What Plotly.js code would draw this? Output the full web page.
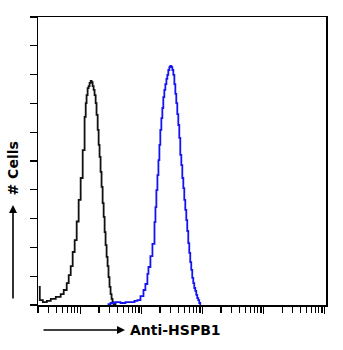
<!DOCTYPE html>
<html>
<head>
<meta charset="utf-8">
<script src="https://cdn.plot.ly/plotly-3.0.1.min.js"></script>
<style>html,body{margin:0;padding:0;background:#fff;}#chart{width:343px;height:350px;}</style>
</head>
<body>
<div id="chart"></div>
<script>
// Control (isotype) histogram: fluorescence intensity vs. cell count
const controlX = [2.06,2.14,2.40,2.79,3.24,3.91,4.71,5.28,5.91,6.37,6.87,7.40,7.98,8.61,9.27,10.0,10.8,11.6,12.1,12.5,13.0,13.5,14.0,14.6,15.1,15.7,16.3,16.9,17.6,18.2,19.0,19.7,20.4,21.2,22.0,22.9,23.8,24.7,25.6,26.6,27.6,28.6,29.7,30.9,32.1,33.3,34.6,37.2];
const controlY = [0.63,0.17,0.10,0.14,0.21,0.28,0.38,0.52,0.76,1.04,1.35,1.84,2.25,2.90,3.65,4.41,5.38,6.53,7.01,7.29,7.53,7.60,7.71,7.78,7.74,7.60,7.47,7.29,7.01,6.60,6.08,5.56,5.14,4.62,4.10,3.54,3.06,2.53,2.08,1.67,1.35,0.97,0.63,0.38,0.21,0.10,0.03,0.0];

// Anti-HSPB1 stained histogram
const hspbX = [27.6,30.9,37.2,45.0,54.3,65.5,76.2,85.3,95.5,107,115,124,129,139,150,162,168,174,181,188,195,202,210,218,226,235,244,254,263,273,284,295,306,318,330,343,356,369,383,398,413,429,446,463,481,499,518,538,558,580,602,625,649,674,700,727,755,784,814,845,877,911];
const hspbY = [0.03,0.07,0.10,0.07,0.10,0.10,0.14,0.17,0.31,0.52,0.73,1.08,1.32,1.70,2.12,2.88,3.40,3.99,4.51,5.03,5.56,6.08,6.49,6.84,7.22,7.47,7.67,7.85,7.99,8.16,8.26,8.30,8.26,8.16,7.99,7.67,7.33,7.01,6.63,6.25,5.80,5.21,4.86,4.41,4.06,3.65,3.30,2.95,2.57,2.15,1.81,1.49,1.22,0.94,0.76,0.59,0.49,0.35,0.24,0.17,0.07,0.0];

// Axis tick positions (log decades and their sub-divisions)
const decadeTicks = [10, 100, 1000, 10000, 100000];
const minorTicks = [2,3,4,5,6,7,8,9,20,30,40,50,60,70,80,90,200,300,400,500,600,700,800,900,2000,3000,4000,5000,6000,7000,8000,9000,20000,30000,40000,50000,60000,70000,80000,90000];
const countTicks = [0,1,2,3,4,5,6,7,8,9,10];

const xTitle = "Anti-HSPB1";
const yTitle = "# Cells";

const traces = [
  {x: controlX, y: controlY, type: 'scatter', mode: 'lines', line: {color: '#111111', width: 1.8, shape: 'hv'}, hoverinfo: 'skip'},
  {x: hspbX, y: hspbY, type: 'scatter', mode: 'lines', line: {color: 'rgb(20,20,240)', width: 1.8, shape: 'hv'}, hoverinfo: 'skip'}
];

const bold = {family: 'DejaVu Sans, Verdana, sans-serif', size: 14, color: '#000', weight: 'bold'};

const layout = {
  width: 343, height: 350,
  margin: {l: 38, r: 17, t: 17, b: 45, pad: 0},
  paper_bgcolor: '#fff', plot_bgcolor: '#fff',
  showlegend: false,
  xaxis: {
    type: 'log', range: [Math.log10(2), 5.02], autorange: false,
    showgrid: false, zeroline: false,
    showline: true, linecolor: '#000', linewidth: 1.5, mirror: true,
    tickmode: 'array', tickvals: decadeTicks, ticks: 'outside', ticklen: 7, tickwidth: 1.2, tickcolor: '#000',
    showticklabels: false,
    minor: {tickmode: 'array', tickvals: minorTicks, ticks: 'outside', ticklen: 6, tickwidth: 1.2, tickcolor: '#000', showgrid: false}
  },
  yaxis: {
    range: [0, 10], autorange: false,
    showgrid: false, zeroline: false,
    showline: true, linecolor: '#000', linewidth: 1.5, mirror: true,
    tickmode: 'array', tickvals: countTicks, ticks: 'outside', ticklen: 7, tickwidth: 1.2, tickcolor: '#000',
    showticklabels: false
  },
  annotations: [
    {xref: 'paper', yref: 'paper', x: 0.302, y: -0.0868, ax: -83, ay: 0, text: '', showarrow: true, arrowhead: 2, arrowsize: 1, arrowwidth: 1.6, arrowcolor: '#000'},
    {xref: 'paper', yref: 'paper', x: 0.314, y: -0.0868, xanchor: 'left', yanchor: 'middle', text: xTitle, showarrow: false, font: bold},
    {xref: 'paper', yref: 'paper', x: -0.0868, y: 0.347, ax: 0, ay: 95, text: '', showarrow: true, arrowhead: 2, arrowsize: 1, arrowwidth: 1.6, arrowcolor: '#000'},
    {xref: 'paper', yref: 'paper', x: -0.0868, y: 0.474, xanchor: 'center', yanchor: 'middle', textangle: -90, text: yTitle, showarrow: false, font: bold}
  ]
};

Plotly.newPlot('chart', traces, layout, {displayModeBar: false, staticPlot: true});
</script>
</body>
</html>
